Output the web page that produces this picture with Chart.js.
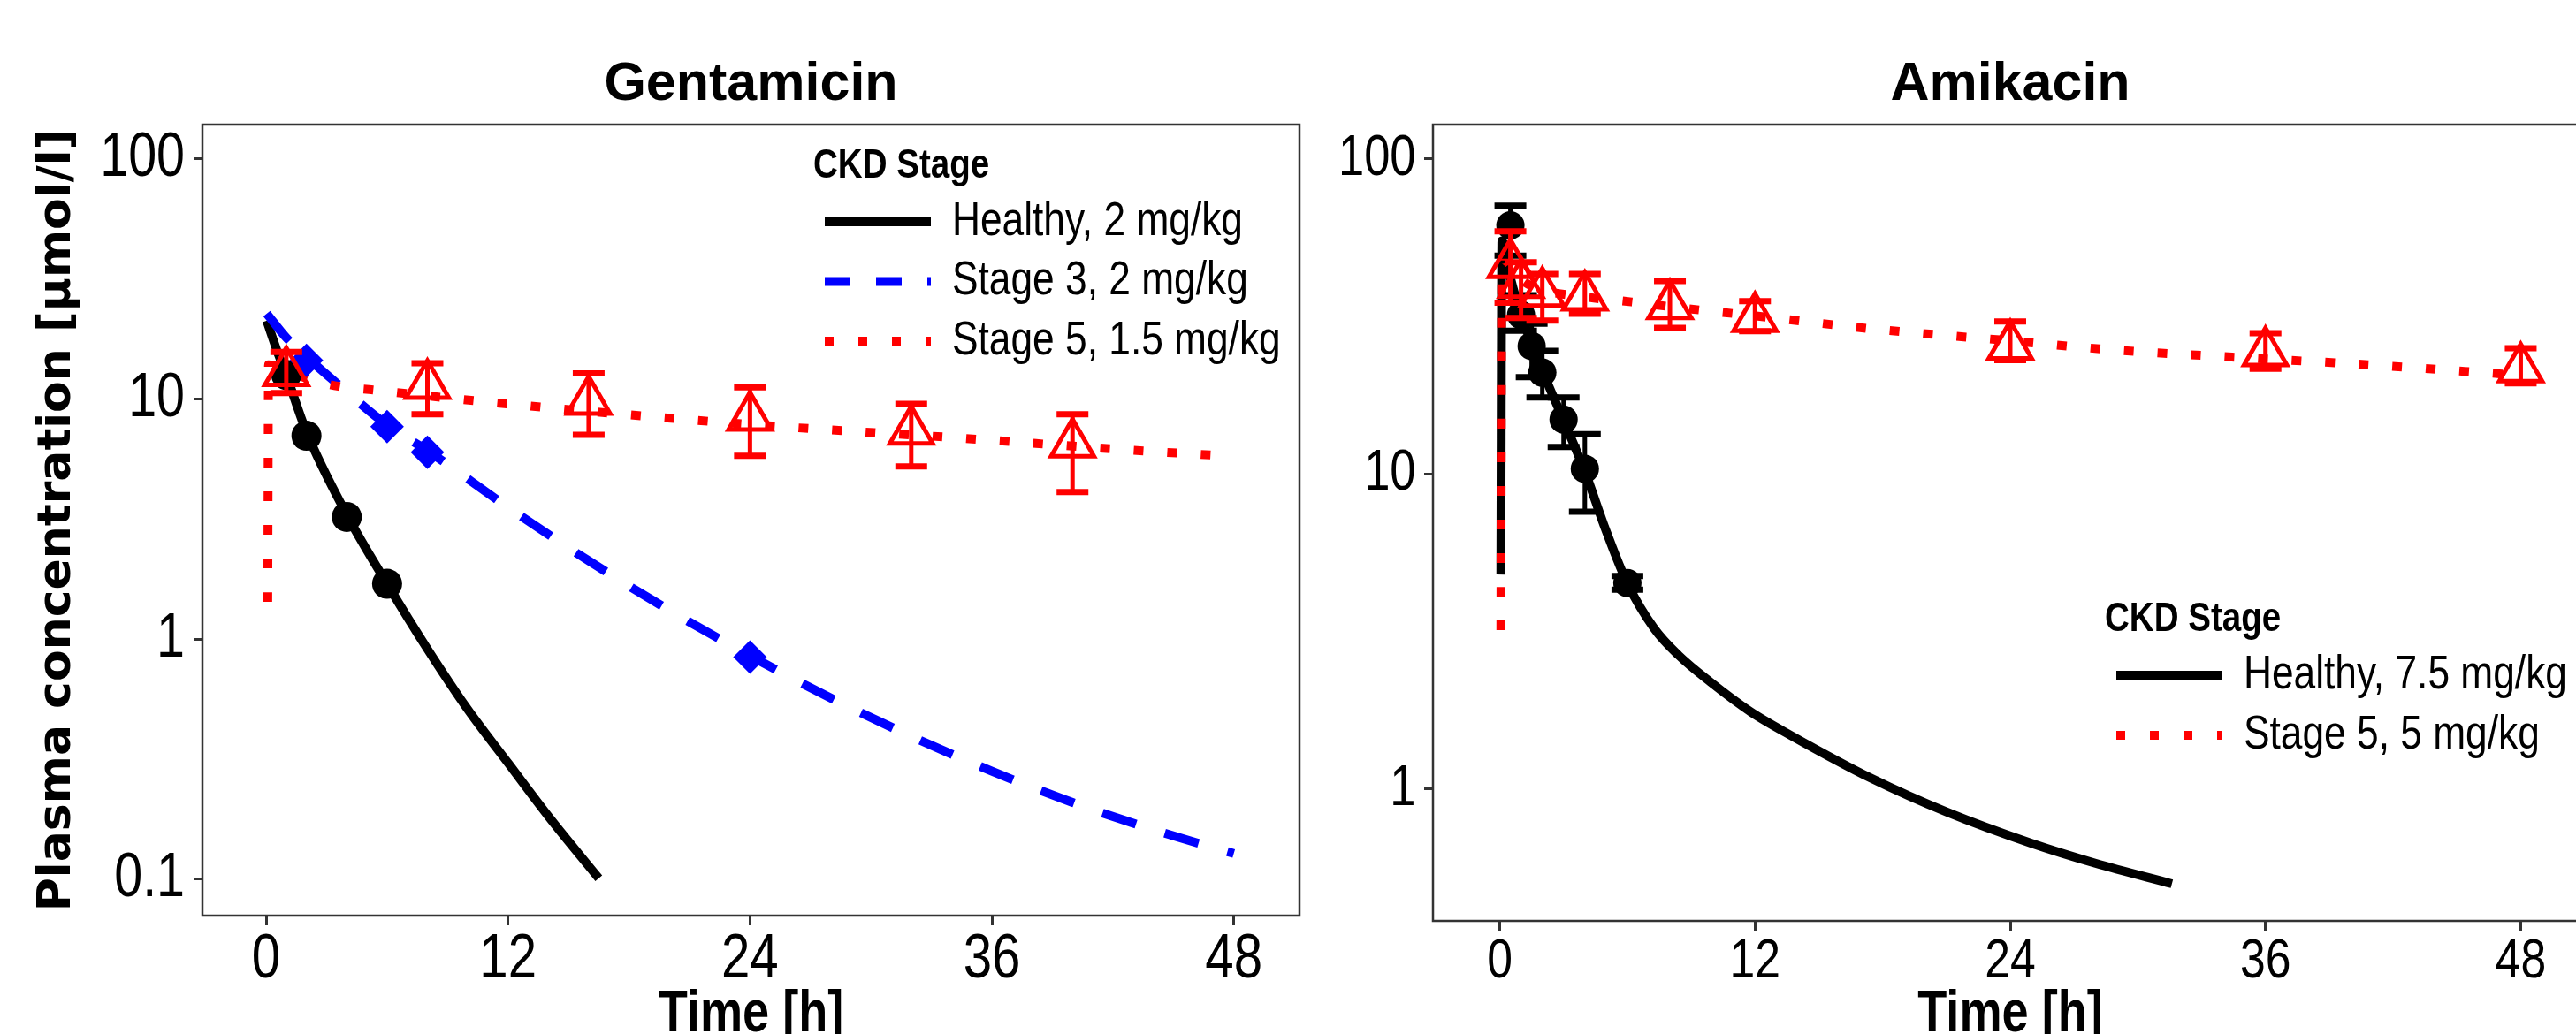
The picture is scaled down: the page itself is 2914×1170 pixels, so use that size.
<!DOCTYPE html>
<html>
<head>
<meta charset="utf-8">
<title>Gentamicin / Amikacin plasma concentration</title>
<script src="https://cdn.jsdelivr.net/npm/chart.js@4.4.1/dist/chart.umd.min.js"></script>
<style>
  html, body { margin: 0; padding: 0; background: #fff; }
  body { width: 2914px; height: 1170px; overflow: hidden; position: relative; }
  #gentCanvas { position: absolute; left: 0; top: 0; }
  #amikCanvas { position: absolute; left: 1480px; top: 0; }
</style>
</head>
<body>
<canvas id="gentCanvas" width="1545" height="1200"></canvas>
<canvas id="amikCanvas" width="1480" height="1200"></canvas>
<script>
// ---- axis ticks ----
const timeTicks = [0, 12, 24, 36, 48];
const gentConcTicks = [0.1, 1, 10, 100];
const amikConcTicks = [1, 10, 100];

// ---- Gentamicin: model curves (time h, conc umol/l) ----
const gentHealthyT = [0.03, 0.54, 1, 2, 4, 6, 8, 10, 12, 14, 16.5];
const gentHealthyC = [21.2, 15.9, 12.6, 7.3, 3.3, 1.7, 0.91, 0.51, 0.305, 0.183, 0.101];
const gentStage3T = [0.03, 1, 2, 3.47, 6, 8, 12, 16, 20, 24, 28, 32, 36, 40, 44, 48];
const gentStage3C = [22.7, 18.0, 15.0, 11.7, 7.8, 6.1, 3.54, 2.12, 1.32, 0.853, 0.569, 0.394, 0.282, 0.209, 0.161, 0.128];
const gentStage5T = [0.08, 0.12, 1, 2, 3.6, 5.35, 10.3, 18.7, 25.6, 34.2, 42.6, 48];
const gentStage5C = [1.43, 13.9, 13.2, 12.2, 11.3, 10.9, 9.85, 8.5, 7.67, 6.9, 6.15, 5.77];

// ---- Gentamicin: observed ----
const gentHealthyObsT = [1, 2, 4, 6];
const gentHealthyObsC = [12.6, 7.03, 3.23, 1.7];
const gentStage3ObsT = [2, 6, 8, 24];
const gentStage3ObsC = [14.5, 7.68, 6.0, 0.842];
const gentStage5ObsT = [1, 8, 16, 24, 32, 40];
const gentStage5ObsC = [12.9, 11.4, 9.8, 8.4, 7.35, 6.5];
const gentStage5Lo = [10.6, 8.65, 7.1, 5.8, 5.24, 4.1];
const gentStage5Hi = [15.7, 14.1, 12.8, 11.2, 9.55, 8.65];

// ---- Amikacin: model curves ----
const amikHealthyT = [0.05, 0.1, 0.5, 1, 1.5, 2, 3, 4, 5, 6, 7.27, 8.41, 9.9, 11.8, 13.7, 17.5, 21, 25, 28, 31.6];
const amikHealthyC = [4.8, 55, 42, 32, 26, 21.3, 14.8, 10.2, 6.6, 4.5, 3.23, 2.66, 2.19, 1.76, 1.48, 1.08, 0.847, 0.673, 0.582, 0.501];
const amikStage5T = [0.05, 0.1, 0.5, 1, 2, 4, 6.2, 8, 12, 17.5, 24, 28.8, 36, 40.1, 48];
const amikStage5C = [3.2, 48, 46, 41.5, 38.5, 36.5, 35.2, 34, 31.8, 28.9, 26.5, 24.8, 23.2, 22.4, 20.6];

// ---- Amikacin: observed ----
const amikHealthyObsT = [0.5, 1, 1.5, 2, 3, 4, 6];
const amikHealthyObsC = [61.6, 32, 25.5, 21, 14.9, 10.4, 4.51];
const amikHealthyLo = [49.4, 28.5, 20.3, 17.5, 12.2, 7.6, 4.3];
const amikHealthyHi = [71.1, 37, 30, 24.6, 17.5, 13.4, 4.75];
const amikStage5ObsT = [0.5, 1, 2, 4, 8, 12, 24, 36, 48];
const amikStage5ObsC = [46.3, 40, 37.5, 36.5, 34.3, 31.2, 25.5, 24.3, 21.6];
const amikStage5Lo = [35, 31.3, 30.7, 32.3, 29.1, 28.4, 23.0, 21.6, 19.4];
const amikStage5Hi = [59, 47, 43.2, 43.2, 41, 35.4, 30.5, 28, 25.1];

// no narrow font is installed: text set in "Squeezed" is Liberation Sans drawn at 82% width
const SQUEEZE = 0.82;
const NARROW = 'Squeezed, "Liberation Sans", Arial, sans-serif';
const proto = CanvasRenderingContext2D.prototype;
const rawFillText = proto.fillText;
const rawMeasureText = proto.measureText;
proto.fillText = function (text, x, y, maxWidth) {
  if (this.font.indexOf('Squeezed') < 0) return rawFillText.apply(this, arguments);
  this.save();
  this.translate(x, y);
  this.scale(SQUEEZE, 1);
  rawFillText.call(this, text, 0, 0);
  this.restore();
};
proto.measureText = function (text) {
  const m = rawMeasureText.call(this, text);
  if (this.font.indexOf('Squeezed') < 0) return m;
  return { width: m.width * SQUEEZE, actualBoundingBoxAscent: m.actualBoundingBoxAscent,
           actualBoundingBoxDescent: m.actualBoundingBoxDescent };
};

const BLACK = '#000000', BLUE = '#0000FF', RED = '#FF0000';

function pts(xs, ys) {
  return xs.map((x, i) => ({ x: x, y: ys[i] }));
}

function curve(label, xs, ys, color, dash, order) {
  return {
    label: label, data: pts(xs, ys), showLine: true,
    borderColor: color, borderWidth: 10, borderDash: dash, borderCapStyle: 'butt',
    pointRadius: 0, pointHoverRadius: 0, cubicInterpolationMode: 'monotone', order: order
  };
}

function markers(xs, ys, style, radius, fill, stroke, bw, order) {
  return {
    data: pts(xs, ys), showLine: false,
    pointStyle: style, pointRadius: radius, pointHoverRadius: radius,
    pointBackgroundColor: fill, pointBorderColor: stroke, pointBorderWidth: bw,
    order: order
  };
}

// error bars, frame and legend
const panelDecor = {
  id: 'panelDecor',
  afterDatasetDraw(chart, args) {
    const ds = chart.data.datasets[args.index];
    if (!ds.errLo) return;
    const xs = chart.scales.x, ys = chart.scales.y, ctx = chart.ctx;
    ctx.save();
    ctx.strokeStyle = ds.errColor;
    ctx.lineCap = 'butt';
    ds.data.forEach((p, i) => {
      const px = xs.getPixelForValue(p.x);
      const lo = ys.getPixelForValue(ds.errLo[i]);
      const hi = ys.getPixelForValue(ds.errHi[i]);
      ctx.lineWidth = 5;
      ctx.beginPath(); ctx.moveTo(px, lo); ctx.lineTo(px, hi); ctx.stroke();
      ctx.lineWidth = 7;
      ctx.beginPath();
      ctx.moveTo(px - 18, lo); ctx.lineTo(px + 18, lo);
      ctx.moveTo(px - 18, hi); ctx.lineTo(px + 18, hi);
      ctx.stroke();
    });
    ctx.restore();
  },
  afterDraw(chart, args, opts) {
    const ctx = chart.ctx, a = chart.chartArea;
    ctx.save();
    ctx.strokeStyle = '#333';
    ctx.lineWidth = 2.5;
    ctx.strokeRect(a.left, a.top, a.right - a.left, a.bottom - a.top);

    const lg = opts.legend;
    ctx.fillStyle = '#000';
    ctx.textAlign = 'left';
    ctx.textBaseline = 'alphabetic';
    ctx.font = 'bold 47px ' + NARROW;
    ctx.fillText('CKD Stage', lg.x, lg.titleY);
    for (let i = 0; i < lg.items.length; i++) {
      const it = lg.items[i];
      const ds = chart.data.datasets[it.index];
      const y = lg.y0 + i * lg.step;
      ctx.strokeStyle = ds.borderColor;
      ctx.lineWidth = 10;
      ctx.lineCap = 'butt';
      ctx.setLineDash(Array.from(it.dash));
      ctx.beginPath();
      ctx.moveTo(lg.x + 13, y); ctx.lineTo(lg.x + 133, y);
      ctx.stroke();
      ctx.setLineDash([]);
      ctx.font = '54px ' + NARROW;
      ctx.textBaseline = 'middle';
      ctx.fillText(ds.label, lg.x + 157, y);
    }
    ctx.restore();
  }
};

function scales(o) {
  return {
    x: {
      type: 'linear', min: o.xMin, max: o.xMax, bounds: 'data',
      afterBuildTicks: s => { s.ticks = timeTicks.map(v => ({ value: v })); },
      afterFit: s => { s.height = o.xHeight; },
      grid: { drawOnChartArea: false, drawTicks: true, tickLength: 11, tickWidth: 3, tickColor: '#333' },
      border: { display: false },
      ticks: {
        autoSkip: false, maxRotation: 0, minRotation: 0, color: '#000', padding: o.xTickPad,
        font: { family: NARROW, size: o.xTickSize, lineHeight: 1 },
        callback: v => String(v)
      },
      title: {
        display: true, text: 'Time [h]', color: '#000',
        font: { family: NARROW, weight: 'bold', size: 66, lineHeight: 1 },
        padding: { top: 0, bottom: 18.5 }
      }
    },
    y: {
      type: 'logarithmic', min: o.yMin, max: o.yMax, bounds: 'data',
      afterBuildTicks: s => { s.ticks = o.yTicks.map(v => ({ value: v })); },
      afterFit: s => { s.width = o.yWidth; },
      grid: { drawOnChartArea: false, drawTicks: true, tickLength: 10, tickWidth: 3, tickColor: '#333' },
      border: { display: false },
      ticks: {
        autoSkip: false, color: '#000', padding: o.yTickPad,
        font: { family: NARROW, size: o.yTickSize, lineHeight: 1 },
        callback: v => String(v)
      },
      title: o.yTitle ? {
        display: true, text: o.yTitle, color: '#000',
        font: { family: '"DejaVu Sans", sans-serif', weight: 'bold', size: 52, lineHeight: 1 },
        padding: { top: 39.5, bottom: 0 }
      } : { display: false }
    }
  };
}

function titleOpts(text) {
  return {
    display: true, text: text, fullSize: false, color: '#000',
    font: { family: '"Liberation Sans", Arial, sans-serif', weight: 'bold', size: 61, lineHeight: 1 },
    padding: { top: 65.5, bottom: 14.5 }
  };
}

// ---------- Gentamicin ----------
const gentTri = markers(gentStage5ObsT, gentStage5ObsC, 'triangle', 28, 'rgba(0,0,0,0)', RED, 5, 1);
gentTri.errLo = gentStage5Lo; gentTri.errHi = gentStage5Hi; gentTri.errColor = RED;

new Chart(document.getElementById('gentCanvas'), {
  type: 'scatter',
  data: {
    datasets: [
      curve('Healthy, 2 mg/kg', gentHealthyT, gentHealthyC, BLACK, [], 7),
      curve('Stage 3, 2 mg/kg', gentStage3T, gentStage3C, BLUE, [40, 34], 6),
      curve('Stage 5, 1.5 mg/kg', gentStage5T, gentStage5C, RED, [11, 27], 5),
      markers(gentHealthyObsT, gentHealthyObsC, 'circle', 17, BLACK, BLACK, 0, 3),
      markers(gentStage3ObsT, gentStage3ObsC, 'rectRot', 19, BLUE, BLUE, 0, 2),
      gentTri
    ]
  },
  options: {
    responsive: false, animation: false, events: [],
    layout: { padding: { left: 0, right: 75, top: 0, bottom: 0 } },
    scales: scales({
      xMin: -3.16, xMax: 51.26, xHeight: 164, xTickPad: 3.5, xTickSize: 71,
      yMin: 0.0706, yMax: 139, yTicks: gentConcTicks, yWidth: 229, yTickPad: 10, yTickSize: 70,
      yTitle: 'Plasma concentration [µmol/l]'
    }),
    plugins: {
      legend: { display: false },
      tooltip: { enabled: false },
      title: titleOpts('Gentamicin'),
      panelDecor: {
        legend: {
          x: 920, titleY: 201, y0: 251, step: 67.5,
          items: [{ index: 0, dash: [] }, { index: 1, dash: [29, 29] }, { index: 2, dash: [10, 28] }]
        }
      }
    }
  },
  plugins: [panelDecor]
});

// ---------- Amikacin ----------
const amikDots = markers(amikHealthyObsT, amikHealthyObsC, 'circle', 16, BLACK, BLACK, 0, 2);
amikDots.errLo = amikHealthyLo; amikDots.errHi = amikHealthyHi; amikDots.errColor = BLACK;
const amikTri = markers(amikStage5ObsT, amikStage5ObsC, 'triangle', 28, 'rgba(0,0,0,0)', RED, 5, 1);
amikTri.errLo = amikStage5Lo; amikTri.errHi = amikStage5Hi; amikTri.errColor = RED;

new Chart(document.getElementById('amikCanvas'), {
  type: 'scatter',
  data: {
    datasets: [
      curve('Healthy, 7.5 mg/kg', amikHealthyT, amikHealthyC, BLACK, [], 7),
      curve('Stage 5, 5 mg/kg', amikStage5T, amikStage5C, RED, [11, 27], 5),
      amikDots,
      amikTri
    ]
  },
  options: {
    responsive: false, animation: false, events: [],
    layout: { padding: { left: 0, right: 25, top: 0, bottom: 0 } },
    scales: scales({
      xMin: -3.14, xMax: 51.14, xHeight: 158, xTickPad: 3.8, xTickSize: 63,
      yMin: 0.382, yMax: 128.6, yTicks: amikConcTicks, yWidth: 141, yTickPad: 9.5, yTickSize: 64,
      yTitle: null
    }),
    plugins: {
      legend: { display: false },
      tooltip: { enabled: false },
      title: titleOpts('Amikacin'),
      panelDecor: {
        legend: {
          x: 901, titleY: 714, y0: 764, step: 68,
          items: [{ index: 0, dash: [] }, { index: 1, dash: [10, 28] }]
        }
      }
    }
  },
  plugins: [panelDecor]
});
</script>
</body>
</html>
